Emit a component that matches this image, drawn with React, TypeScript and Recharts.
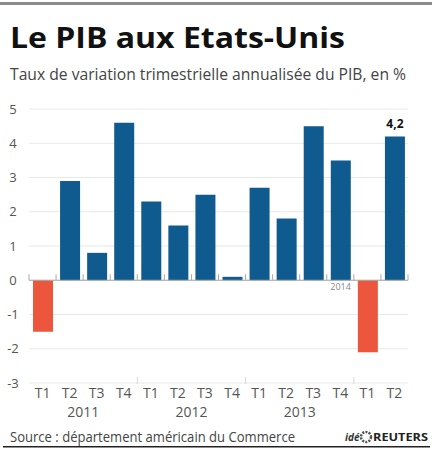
import React from "react";
import {
  BarChart,
  Bar,
  XAxis,
  YAxis,
  CartesianGrid,
  Cell,
  ReferenceLine,
  LabelList,
} from "recharts";

const quarters = ["T1", "T2", "T3", "T4", "T1", "T2", "T3", "T4", "T1", "T2", "T3", "T4", "T1", "T2"];
const years = ["2011", "2011", "2011", "2011", "2012", "2012", "2012", "2012", "2013", "2013", "2013", "2013", "2014", "2014"];
const growth = [-1.5, 2.9, 0.8, 4.6, 2.3, 1.6, 2.5, 0.1, 2.7, 1.8, 4.5, 3.5, -2.1, 4.2];
const yTicks = [-3, -2, -1, 0, 1, 2, 3, 4, 5];
const labelledIndexes = [13];

const TITLE = "Le PIB aux Etats-Unis";
const SUBTITLE = "Taux de variation trimestrielle annualisée du PIB, en %";
const SOURCE = "Source : département américain du Commerce";

const BLUE = "#0f5a8e";
const RED = "#ec563c";
const FONT = "'Open Sans', 'DejaVu Sans', sans-serif";

const data = quarters.map((q, i) => ({
  key: `${years[i]}-${q}`,
  q,
  year: years[i],
  value: growth[i],
}));

const groups: { year: string; start: number; count: number }[] = [];
data.forEach((d, i) => {
  const last = groups[groups.length - 1];
  if (last && last.year === d.year) last.count += 1;
  else groups.push({ year: d.year, start: i, count: 1 });
});

const XTick = (props: any) => {
  const { x, y, payload, width } = props;
  const i: number = payload.index ?? props.index;
  const half: number = payload.offset ?? width / data.length / 2;
  const d = data[i];
  const g = groups.find((gr) => gr.year === d.year)!;
  const showYear = g.count === 4 && i === g.start + 1;
  const axisY = y - 8;
  const isGroupStart = i > 0 && d.year !== data[i - 1].year;
  return (
    <g>
      <text x={x} y={y + 7} textAnchor="middle" fontSize={14} fill="#555" fontFamily={FONT}>
        {d.q}
      </text>
      {showYear && (
        <text x={x + half} y={y + 26} textAnchor="middle" fontSize={14} fill="#555" fontFamily={FONT}>
          {d.year}
        </text>
      )}
      {isGroupStart && (
        <line x1={x - half} x2={x - half} y1={axisY - 6} y2={axisY + 1} stroke="#d8d8d8" strokeWidth={1} />
      )}
    </g>
  );
};

const YTick = (props: any) => {
  const { x, y, payload } = props;
  return (
    <text x={x - 8} y={y + 4.5} textAnchor="middle" fontSize={13} fill="#555" fontFamily={FONT}>
      {payload.value}
    </text>
  );
};

const ZeroLine = (props: any) => {
  const x1 = Number(props.x1);
  const x2 = Number(props.x2);
  const y = Number(props.y1);
  const step = (x2 - x1) / data.length;
  const shortGroups = groups.filter((g) => g.count < 4);
  return (
    <g>
      <line x1={x1} x2={x2} y1={y} y2={y} stroke="#a8a8a8" strokeWidth={1} />
      {Array.from({ length: data.length + 1 }).map((_, i) => (
        <line key={i} x1={x1 + i * step} x2={x1 + i * step} y1={y - 6} y2={y} stroke="#a8a8a8" strokeWidth={1} />
      ))}
      {shortGroups.map((g) => (
        <text
          key={g.year}
          x={x1 + g.start * step - 3}
          y={y + 10}
          textAnchor="end"
          fontSize={9}
          fill="#888"
          fontFamily={FONT}
        >
          {g.year}
        </text>
      ))}
    </g>
  );
};

const ValueLabel = (props: any) => {
  const { x, y, width, value, index } = props;
  if (!labelledIndexes.includes(index)) return null;
  return (
    <text
      x={Number(x) + Number(width) / 2}
      y={Number(y) - 8}
      textAnchor="middle"
      fontSize={12}
      fontWeight="bold"
      fill="#111"
      fontFamily={FONT}
    >
      {String(value).replace(".", ",")}
    </text>
  );
};

export default function App() {
  return (
    <div style={{ position: "absolute", left: 0, top: 0, width: 432, height: 450, background: "#fff" }}>
      <svg width={432} height={450} style={{ position: "absolute", left: 0, top: 0 }}>
        <rect x={0} y={2} width={432} height={3} fill="#8c8c8c" />
        <text
          x={10}
          y={48}
          fontSize={28}
          fontWeight="bold"
          fill="#111"
          fontFamily={FONT}
          textLength={335}
          lengthAdjust="spacingAndGlyphs"
        >
          {TITLE}
        </text>
        <text
          x={10}
          y={80}
          fontSize={16}
          fill="#444"
          fontFamily={FONT}
          textLength={396}
          lengthAdjust="spacingAndGlyphs"
        >
          {SUBTITLE}
        </text>
        <text
          x={10}
          y={442}
          fontSize={14}
          fill="#444"
          fontFamily={FONT}
          textLength={285}
          lengthAdjust="spacingAndGlyphs"
        >
          {SOURCE}
        </text>
        <text x={345} y={441} fontSize={10} fontStyle="italic" fontWeight="bold" fill="#333" fontFamily={FONT}>
          idé
        </text>
        <circle cx={366} cy={437} r={5} fill="none" stroke="#555" strokeWidth={2.5} strokeDasharray="2 1.2" />
        <text
          x={373}
          y={441}
          fontSize={11}
          fontWeight="bold"
          fill="#222"
          fontFamily={FONT}
          textLength={55}
          lengthAdjust="spacingAndGlyphs"
        >
          REUTERS
        </text>
        <rect x={3} y={446} width={427} height={1.5} fill="#222" />
      </svg>
      <div style={{ position: "absolute", left: 0, top: 0 }}>
        <BarChart
          width={432}
          height={450}
          data={data}
          margin={{ top: 109, right: 24, bottom: 0, left: 0 }}
        >
          <CartesianGrid vertical={false} stroke="#e8e8e8" />
          <XAxis
            dataKey="key"
            height={67}
            axisLine={false}
            tickLine={false}
            tickSize={6}
            tickMargin={2}
            interval={0}
            tick={<XTick />}
          />
          <YAxis
            width={29}
            domain={[-3, 5]}
            ticks={yTicks}
            axisLine={false}
            tickLine={false}
            tickSize={6}
            tickMargin={2}
            interval={0}
            tick={<YTick />}
          />
          <Bar dataKey="value" barSize={20} isAnimationActive={false}>
            {data.map((d) => (
              <Cell key={d.key} fill={d.value < 0 ? RED : BLUE} />
            ))}
            <LabelList dataKey="value" content={<ValueLabel />} />
          </Bar>
          <ReferenceLine y={0} shape={(p: any) => <ZeroLine {...p} />} />
        </BarChart>
      </div>
    </div>
  );
}
